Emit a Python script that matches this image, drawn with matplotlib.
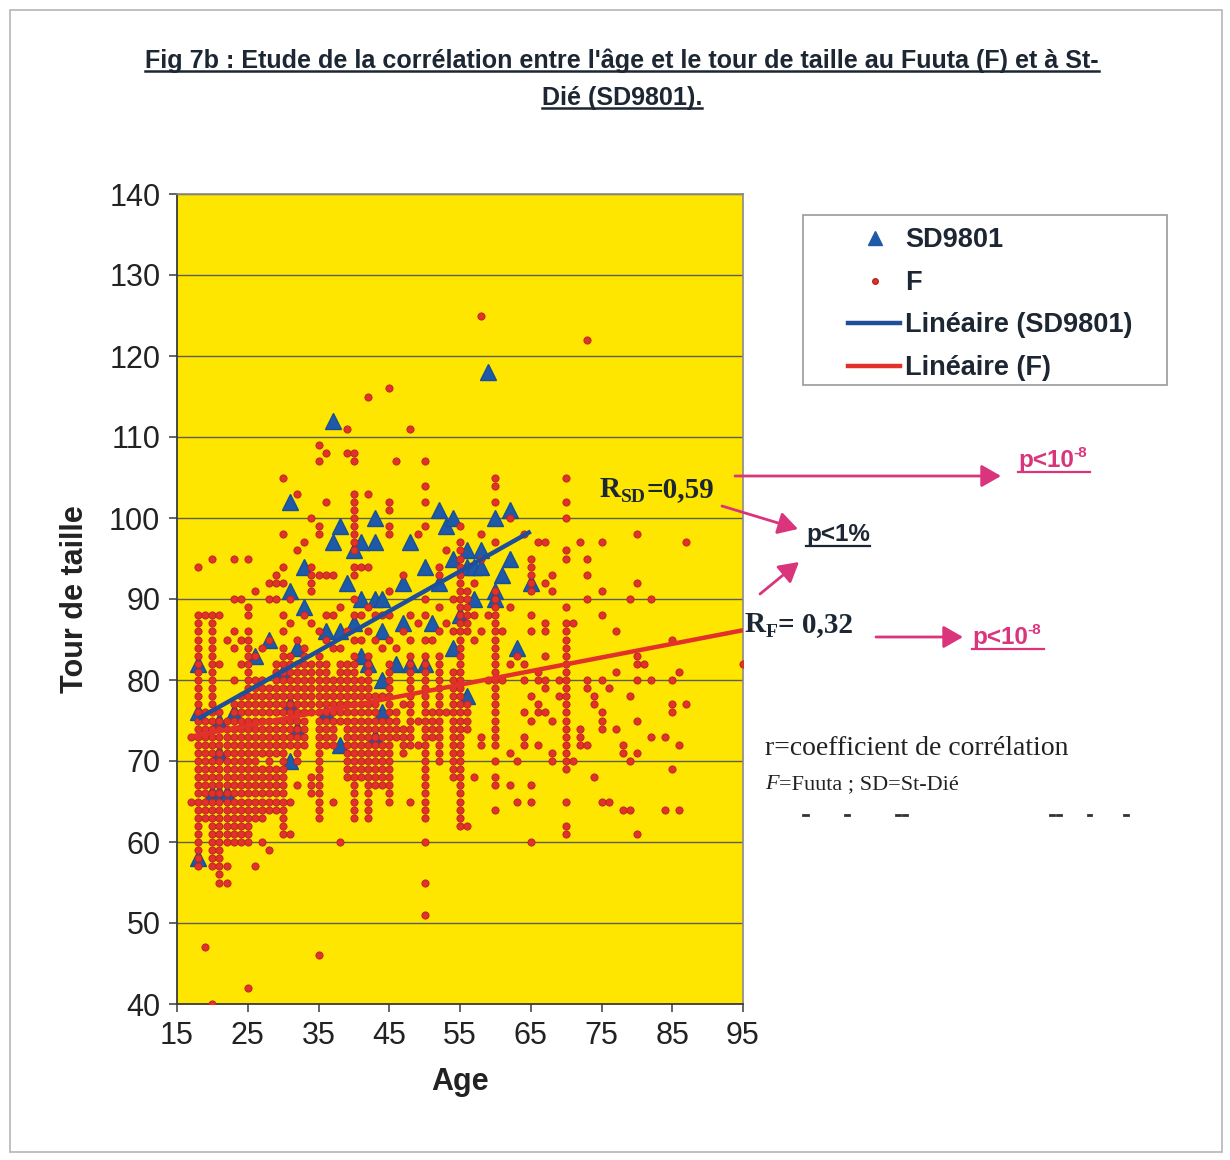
import numpy as np
import matplotlib
matplotlib.use("Agg")
import matplotlib.pyplot as plt
from matplotlib import font_manager as fm
from matplotlib.transforms import IdentityTransform
from matplotlib.patches import FancyArrowPatch, Rectangle
from matplotlib.lines import Line2D

# ---- St-Dié (SD9801): age / waist circumference ----
sd_age = [18, 18, 18, 21, 23, 21, 20, 21, 22, 26, 28, 30, 31, 32, 31, 31, 31, 32, 33, 33,
          36, 36, 37, 37, 38, 38, 38, 39, 40, 40, 41, 41, 41, 42, 43, 43, 43, 43, 44, 44,
          44, 44, 46, 47, 47, 48, 48, 50, 50, 51, 52, 52, 53, 54, 54, 54, 55, 56, 56, 56,
          57, 57, 58, 58, 59, 60, 60, 60, 61, 62, 62, 63, 65]
sd_waist = [82, 76, 58, 75, 76, 71, 66, 66, 66, 83, 85, 81, 77, 74, 70, 91, 102, 84, 94, 89,
            76, 86, 112, 97, 99, 86, 72, 92, 96, 87, 97, 90, 83, 82, 100, 97, 90, 73, 90, 86,
            80, 76, 82, 92, 87, 97, 82, 94, 82, 87, 101, 92, 99, 100, 95, 84, 88, 96, 94, 78,
            94, 90, 96, 94, 118, 100, 91, 90, 93, 101, 95, 84, 92]

# ---- Fuuta (F): waist values per age ("a-b" = every integer from a to b) ----
f_age = [17, 18, 19, 20, 21, 22, 23, 24, 25, 26, 27, 28, 29, 30, 31, 32, 33, 34, 35, 36,
         37, 38, 39, 40, 41, 42, 43, 44, 45, 46, 47, 48, 49, 50, 51, 52, 53, 54, 55, 56,
         57, 58, 59, 60, 61, 62, 63, 64, 65, 66, 67, 68, 69, 70, 71, 72, 73, 74, 75, 76,
         77, 78, 79, 80, 81, 82, 84, 85, 86, 87, 95]
f_waist = [
    "65,73", "57-88,94", "47,63-76,88", "40,57-88,95", "55-76,82,88",
    "55,57,60-75,85", "60-77,80,84,86,90,95", "60-78,82,85,90", "42,60-86,88,89,95",
    "57,63-80,83,91", "60,63-69,71-80,84", "59,64-79,85,90,92", "64-69,71-82,90,92,93",
    "61-84,86,88,92,94,98,105", "61,65,72-83,87,90", "67,70-82,85,96,103",
    "72-84,88,97", "66-68,76-82,87,91-94,100", "46,63-83,86,93,98,99,107,109",
    "72-82,85,88,93,102,108", "65,72-80,84,88,93", "60,75-82,84,89", "68-82,86,108,111",
    "63-83,85,88,90,93,94,96-103,107,108", "68-80,85,88,94", "63-83,86,89,94,103,115",
    "67-78,85,88", "67-75,78,84,88", "65-82,85,88,91,98,99,101,102,116", "73-76,84,107",
    "71-74,77,86,93", "65,72-83,85,88,111", "72,75,87,98",
    "51,55,60,63-83,85,88,90,99,102,104,107", "73-76,85", "70-83,86,89,93,94",
    "76,87,96", "68-81,86,90", "62-97,99", "62,74-77,86-91", "68,85,88,92",
    "72,73,86,95,98,125", "80,88", "64,67,68,70,72-91,97,102,104,105", "80,86",
    "67,71,82,89,100", "65,70,83", "72,73,76,80,82,98", "60,65,67,75,78,86,88,91-95",
    "72,76,77,80,81,97", "76,79,80,83,86,87,92,97", "70,71,75,91,93", "78,80",
    "61,62,65,69-87,89,95,96,100,102,105", "70,87", "72-74,97", "72,79,80,90,93,95,122",
    "68,77,78", "65,74-76,80,88,91,97", "65,79", "74,81,86", "64,71,72", "64,70,78,90",
    "61,71,75,80,82,83,92,98", "82", "73,80,90", "64,73", "69,76,77,80,85", "64,72,81",
    "77,97", "82",
]

# ---- axis ranges / ticks ----
x_ticks = list(range(15, 96, 10))
y_ticks = list(range(40, 141, 10))


def expand(spec):
    vals = []
    for part in spec.split(","):
        if "-" in part:
            a, b = part.split("-")
            vals.extend(range(int(a), int(b) + 1))
        else:
            vals.append(int(part))
    return vals


fx, fy = [], []
for a, spec in zip(f_age, f_waist):
    for v in expand(spec):
        fx.append(a)
        fy.append(v)
fx = np.array(fx, float)
fy = np.array(fy, float)
sx = np.array(sd_age, float)
sy = np.array(sd_waist, float)

names = {f.name for f in fm.fontManager.ttflist}
SANS = "Liberation Sans" if "Liberation Sans" in names else "DejaVu Sans"
SERIF = "Liberation Serif" if "Liberation Serif" in names else "DejaVu Serif"
NARROW = "Liberation Sans Narrow" if "Liberation Sans Narrow" in names else SANS
plt.rcParams["font.family"] = [SANS, "DejaVu Sans"]

W, H = 1230, 1160
fig = plt.figure(figsize=(W / 100, H / 100), dpi=100)
fig.patch.set_facecolor("white")

# page frame
fig.add_artist(Rectangle((10 / W, (H - 1152) / H), 1212 / W, 1142 / H,
                         transform=fig.transFigure, fill=False,
                         edgecolor="#b5b5b5", lw=1.2))

ax = fig.add_axes([177 / W, 156 / H, 566 / W, 810 / H])
ax.set_facecolor("#FFE600")
ax.set_xlim(15, 95)
ax.set_ylim(40, 140)
ax.set_xticks(x_ticks)
ax.set_yticks(y_ticks)
ax.yaxis.grid(True, color="#5e5e4c", lw=1.0)
ax.set_axisbelow(True)
for side in ["top", "right"]:
    ax.spines[side].set_color("#8a8a8a")
    ax.spines[side].set_linewidth(1.2)
for side in ["left", "bottom"]:
    ax.spines[side].set_color("#3a3a3a")
    ax.spines[side].set_linewidth(1.3)
ax.tick_params(axis="both", direction="out", length=6, width=1.1, color="#3a3a3a",
               labelsize=22, labelcolor="#222222", pad=6)
for lab in ax.get_xticklabels() + ax.get_yticklabels():
    lab.set_fontfamily(SANS)
ax.set_ylabel("Tour de taille", fontsize=22, fontweight="bold", color="#222222",
              family=SANS, labelpad=14)
ax.set_xlabel("Age", fontsize=22, fontweight="bold", color="#222222",
              family=SANS, labelpad=12)

BLUE = "#1E5AA8"
RED = "#E2302B"

ax.plot(sx, sy, linestyle="none", marker="^", markersize=12, color=BLUE,
        markeredgecolor="#1A4F96", zorder=3)
ax.plot(fx, fy, linestyle="none", marker="o", markersize=5.2, color=RED,
        markeredgecolor="#B5261F", markeredgewidth=0.6, zorder=4)

# least-squares trend lines over each series' age range
for xs, ys, col in [(sx, sy, "#1F4E9A"), (fx, fy, RED)]:
    k, b = np.polyfit(xs, ys, 1)
    xx = np.array([xs.min(), xs.max()])
    ax.plot(xx, k * xx + b, color=col, lw=3.2, zorder=5, solid_capstyle="butt")

R = fig.canvas.get_renderer()
ID = IdentityTransform()
DARK = "#1d2733"
MAG = "#D9347C"


def rich(x, y, pieces):
    """Draw text pieces left to right; x, y = left/baseline in image pixels."""
    cx = x
    arts = []
    for s, size, dy, kw in pieces:
        t = fig.text(cx, H - y + dy, s, transform=ID, fontsize=size,
                     va="baseline", ha="left", **kw)
        cx = t.get_window_extent(R).x1
        arts.append(t)
    return arts, cx


def underline(x0, x1, y, color, lw=1.6):
    fig.add_artist(Line2D([x0, x1], [H - y, H - y], transform=ID, color=color, lw=lw))


def arrow(p0, p1, color=MAG):
    fig.add_artist(FancyArrowPatch((p0[0], H - p0[1]), (p1[0], H - p1[1]),
                                   transform=ID, arrowstyle="-|>,head_length=7,head_width=4",
                                   mutation_scale=1.7, color=color, lw=2.0,
                                   shrinkA=0, shrinkB=0))


# title (two lines, bold, underlined)
title1 = "Fig 7b : Etude de la corrélation entre l'âge et le tour de taille au Fuuta (F) et à St-"
title2 = "Dié (SD9801)."
probe = fig.text(0, 0, title1, fontsize=16, fontweight="bold", family=NARROW, transform=ID)
wpx = probe.get_window_extent(R).width
probe.remove()
tsize = 16 * 955 / wpx
for s, yb in [(title1, 68), (title2, 105)]:
    t = fig.text(622, H - yb, s, transform=ID, fontsize=tsize, fontweight="bold",
                 family=NARROW, color=DARK, ha="center", va="baseline")
    bb = t.get_window_extent(R)
    underline(bb.x0, bb.x1, yb + 3, DARK, lw=1.8)

# legend
fig.add_artist(Rectangle((803, H - 385), 364, 170, transform=ID, fill=False,
                         edgecolor="#9a9a9a", lw=1.2))
fig.add_artist(Line2D([875], [H - 238], transform=ID, marker="^", markersize=10,
                      color=BLUE, linestyle="none"))
fig.add_artist(Line2D([875], [H - 281], transform=ID, marker="o", markersize=4,
                      color=RED, markeredgecolor="#B5261F", linestyle="none"))
fig.add_artist(Line2D([848, 900], [H - 323, H - 323], transform=ID, color="#1F4E9A", lw=3.2))
fig.add_artist(Line2D([848, 900], [H - 366, H - 366], transform=ID, color=RED, lw=3.2))
for s, yb in [("SD9801", 247), ("F", 290), ("Linéaire (SD9801)", 332), ("Linéaire (F)", 375)]:
    fig.text(905, H - yb, s, transform=ID, fontsize=19.5, fontweight="bold", family=SANS,
             color=DARK, va="baseline", ha="left")

serif_b = dict(family=SERIF, fontweight="bold", color=DARK)
sans_b_mag = dict(family=SANS, fontweight="bold", color=MAG)
sans_b_dark = dict(family=SANS, fontweight="bold", color=DARK)

# correlation annotations
rich(600, 497, [("R", 21, 0, serif_b), ("SD", 14, -5, serif_b), ("=0,59", 21, 0, serif_b)])
rich(745, 632, [("R", 21, 0, serif_b), ("F", 14, -5, serif_b), ("= 0,32", 21, 0, serif_b)])

arrow((735, 476), (1001, 476))
arrs, xe = rich(1018, 467, [("p<10", 17.5, 0, sans_b_mag), ("-8", 11, 10, sans_b_mag)])
underline(1018, xe + 2, 472, MAG)

arrow((722, 506), (798, 529))
arrow((760, 594), (799, 562))
arrs, xe = rich(806, 541, [("p<1%", 17.5, 0, sans_b_dark)])
underline(806, xe, 546, DARK)

arrow((876, 637), (963, 637))
arrs, xe = rich(972, 644, [("p<10", 17.5, 0, sans_b_mag), ("-8", 11, 10, sans_b_mag)])
underline(972, xe + 2, 649, MAG)

serif_r = dict(family=SERIF, color="#222222")
rich(765, 755, [("r=coefficient de corrélation", 20, 0, serif_r)])
rich(765, 789, [("F", 16, 0, dict(family=SERIF, color="#222222", style="italic")),
                ("=Fuuta ; SD=St-Dié", 16, 0, serif_r)])

# clipped line of text at the bottom of the notes
for x0, x1 in [(803, 808), (845, 849), (896, 900), (903, 907), (1050, 1054),
               (1057, 1061), (1088, 1091), (1124, 1128)]:
    fig.add_artist(Line2D([x0, x1], [H - 815, H - 815], transform=ID, color="#333333", lw=2))

fig.savefig("out.png", dpi=100, facecolor="white")
